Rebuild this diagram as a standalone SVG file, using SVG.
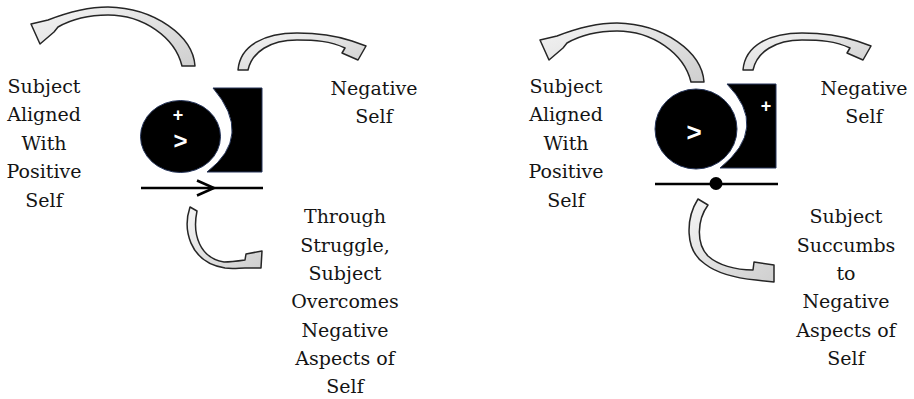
<svg xmlns="http://www.w3.org/2000/svg" width="914" height="399" viewBox="0 0 914 399">
  <defs>
    <linearGradient id="arrowFill" x1="0" y1="0" x2="1" y2="1">
      <stop offset="0" stop-color="#f4f4f4"/>
      <stop offset="1" stop-color="#cfcfcf"/>
    </linearGradient>
    <path id="bigArc" d="M195,66 C193,36 155,8 108,7 C88,7 66,13 48,20 L31,24 L40,44 L54,32 L58,27 C72,19 90,15 108,15 C143,15 175,37 182,66 Z"/>
    <path id="smallArc" d="M238,70 C240,45 265,33 297,33 C318,33 337,36 352,41 L366,46 L358,60 L342,53 L345,48 C330,41 315,40 297,40 C270,40 252,52 248,70 Z"/>
  </defs>
  <style>
    .lbl { font-family: "DejaVu Serif", serif; font-size: 19px; fill: #141414; text-anchor: middle; }
    .arr { fill: url(#arrowFill); stroke: #262626; stroke-width: 1.5; stroke-linejoin: round; }
    .blk { fill: #000; stroke: #26355a; stroke-width: 1; }
    .sym { font-family: "Liberation Sans", Arial, sans-serif; font-weight: bold; fill: #fff; text-anchor: middle; }
    .bar { stroke: #000; stroke-width: 2.5; fill: none; }
  </style>
  <rect width="914" height="399" fill="#fff"/>

  <!-- Panel 1 -->
  <g id="icon-left">
    <ellipse class="blk" cx="180.5" cy="136.5" rx="40" ry="36"/>
    <path class="blk" d="M213,88 H262 V172 H207 Q254,136 213,88 Z"/>
    <text class="sym" x="178" y="120.5" font-size="18">+</text>
    <text class="sym" x="180.5" y="148.5" font-size="24">&gt;</text>
    <line class="bar" x1="141" y1="188" x2="263" y2="188"/>
    <polyline class="bar" points="197,180.5 214,188 197,195.5"/>
  </g>
  <g id="label-left-positive">
    <text class="lbl" x="44" y="93">Subject</text>
    <text class="lbl" x="44" y="121">Aligned</text>
    <text class="lbl" x="44" y="150">With</text>
    <text class="lbl" x="44" y="178">Positive</text>
    <text class="lbl" x="44" y="207">Self</text>
  </g>
  <g id="label-left-negative">
    <text class="lbl" x="374" y="95">Negative</text>
    <text class="lbl" x="374" y="123">Self</text>
  </g>
  <g id="label-left-outcome">
    <text class="lbl" x="345" y="223">Through</text>
    <text class="lbl" x="345" y="252">Struggle,</text>
    <text class="lbl" x="345" y="280">Subject</text>
    <text class="lbl" x="345" y="308">Overcomes</text>
    <text class="lbl" x="345" y="337">Negative</text>
    <text class="lbl" x="345" y="365">Aspects of</text>
    <text class="lbl" x="345" y="393">Self</text>
  </g>

  <!-- Panel 2 -->
  <g id="icon-right">
    <ellipse class="blk" cx="696" cy="129" rx="41" ry="40"/>
    <path class="blk" d="M727,84 H776 V168 H720 Q770,128 727,84 Z"/>
    <text class="sym" x="766" y="111.5" font-size="18">+</text>
    <text class="sym" x="694" y="141" font-size="26">&gt;</text>
    <line class="bar" x1="655" y1="184" x2="778" y2="184"/>
    <circle cx="716" cy="183.5" r="6.5" fill="#000"/>
  </g>
  <g id="label-right-positive">
    <text class="lbl" x="566" y="93">Subject</text>
    <text class="lbl" x="566" y="121">Aligned</text>
    <text class="lbl" x="566" y="150">With</text>
    <text class="lbl" x="566" y="178">Positive</text>
    <text class="lbl" x="566" y="207">Self</text>
  </g>
  <g id="label-right-negative">
    <text class="lbl" x="864" y="95">Negative</text>
    <text class="lbl" x="864" y="123">Self</text>
  </g>
  <g id="label-right-outcome">
    <text class="lbl" x="846" y="223">Subject</text>
    <text class="lbl" x="846" y="252">Succumbs</text>
    <text class="lbl" x="846" y="280">to</text>
    <text class="lbl" x="846" y="308">Negative</text>
    <text class="lbl" x="846" y="337">Aspects of</text>
    <text class="lbl" x="846" y="365">Self</text>
  </g>

  <!-- Connectors -->
  <g id="connectors">
    <use href="#bigArc" class="arr"/>
    <use href="#smallArc" class="arr"/>
    <path class="arr" d="M190,207 C183,228 188,262 225,268 C233,269 239,268 245,268 L261,268 L262,251 L246,254 L245,260 C238,261 230,262 224,262 C200,258 192,235 197,211 Z"/>
    <use href="#bigArc" class="arr" transform="translate(509,16)"/>
    <use href="#smallArc" class="arr" transform="translate(505,0)"/>
    <path class="arr" d="M698,199 C686,218 684,250 705,264 C718,274 735,278 756,280 L774,282 L774,265 L754,262 L753,270 C735,270 718,265 708,256 C696,244 697,220 708,205 Z"/>
  </g>
</svg>
